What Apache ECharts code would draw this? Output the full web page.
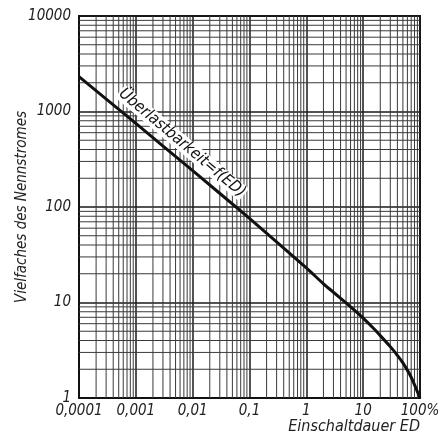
<!DOCTYPE html>
<html><head><meta charset="utf-8">
<script src="https://cdn.jsdelivr.net/npm/echarts@6/dist/echarts.min.js"></script>
<style>html,body{margin:0;padding:0;background:#fff}#c{width:443px;height:437px}</style>
</head><body><div id="c"></div>
<script>
// Data
const edValues = [0.0001, 0.001, 0.01, 0.1, 1, 2, 3, 5, 7, 10, 15, 20, 30, 40, 50, 70, 100];
const overloadValues = [2320, 750, 240, 76, 23, 15.7, 12.8, 9.9, 8.3, 6.85, 5.4, 4.5, 3.45, 2.8, 2.33, 1.65, 1.0];
const xTickValues = [0.0001, 0.001, 0.01, 0.1, 1, 10, 100];
const xTickLabels = ['0,0001', '0,001', '0,01', '0,1', '1', '10', '100%'];
const yTickValues = [1, 10, 100, 1000, 10000];
const yTickLabels = ['1', '10', '100', '1000', '10000'];
const minorMultipliers = [2, 3, 4, 5, 6, 7, 8, 9];
const curveLabel = 'Überlastbarkeit=f(ED)';
const xName = 'Einschaltdauer ED';
const yName = 'Vielfaches des Nennstromes';

const FONT = "'Liberation Sans Narrow','DejaVu Sans Condensed',sans-serif";
const X_MIN = xTickValues[0], X_MAX = xTickValues[xTickValues.length - 1];
const Y_MIN = yTickValues[0], Y_MAX = yTickValues[yTickValues.length - 1];

function minorValues(decades) {
  const out = [];
  for (let i = 0; i < decades.length - 1; i++)
    for (const m of minorMultipliers) out.push(+(decades[i] * m).toPrecision(6));
  return out;
}
function lookup(vals, labels, v) {
  for (let i = 0; i < vals.length; i++) if (Math.abs(Math.log10(v) - Math.log10(vals[i])) < 1e-6) return labels[i];
  return '';
}

const xMinor = minorValues(xTickValues);
const yMinor = minorValues(yTickValues);
// gridline segments as line data with gaps between them
const xMinorData = [];
xMinor.forEach(v => { xMinorData.push([v, Y_MIN], [v, Y_MAX], ['-', '-']); });
const yMinorData = [];
yMinor.forEach(v => { yMinorData.push([X_MIN, v], [X_MAX, v], ['-', '-']); });

const minorStyle = {color: '#3a3a3a', width: 1};

const chart = echarts.init(document.getElementById('c'), null, {renderer: 'canvas'});
chart.setOption({
  animation: false,
  backgroundColor: '#fff',
  grid: {left: 79, right: 23, top: 16, bottom: 39, containLabel: false, outerBoundsMode: 'none',
    show: true, borderColor: '#111', borderWidth: 2, backgroundColor: 'transparent'},
  xAxis: {
    type: 'log', logBase: 10, min: X_MIN, max: X_MAX,
    name: xName, nameLocation: 'end', nameGap: 0, nameMoveOverlap: false,
    nameTextStyle: {fontFamily: FONT, fontStyle: 'italic', fontSize: 16, color: '#222', align: 'right', verticalAlign: 'top', padding: [21, 0, 0, 0]},
    axisLine: {show: true, lineStyle: {color: '#111', width: 2}},
    axisTick: {show: false},
    splitLine: {show: true, lineStyle: {color: '#1a1a1a', width: 1.5}},
    axisLabel: {fontFamily: FONT, fontStyle: 'italic', fontSize: 15, color: '#222', margin: 6,
      formatter: v => lookup(xTickValues, xTickLabels, v)}
  },
  yAxis: {
    type: 'log', logBase: 10, min: Y_MIN, max: Y_MAX,
    name: yName, nameLocation: 'middle', nameGap: 49, nameRotate: 90, nameMoveOverlap: false,
    nameTextStyle: {fontFamily: FONT, fontStyle: 'italic', fontSize: 15, color: '#222'},
    axisLine: {show: true, lineStyle: {color: '#111', width: 2}},
    axisTick: {show: false},
    splitLine: {show: true, lineStyle: {color: '#1a1a1a', width: 1.5}},
    axisLabel: {fontFamily: FONT, fontStyle: 'italic', fontSize: 15, color: '#222', margin: 8,
      formatter: v => lookup(yTickValues, yTickLabels, v)}
  },
  series: [
    {type: 'line', silent: true, symbol: 'none', connectNulls: false, data: xMinorData, lineStyle: minorStyle, z: 1},
    {type: 'line', silent: true, symbol: 'none', connectNulls: false, data: yMinorData, lineStyle: minorStyle, z: 1},
    {
      type: 'line', name: curveLabel,
      data: edValues.map((x, i) => [x, overloadValues[i]]),
      smooth: 0.2, symbol: 'none',
      lineStyle: {color: '#111', width: 3},
      z: 5
    }
  ],
  graphic: [{
    type: 'text', z: 100,
    x: 182, y: 143, rotation: -40 * Math.PI / 180,
    style: {text: curveLabel, fontFamily: FONT, fontStyle: 'italic', fontSize: 16, fill: '#111',
      align: 'center', verticalAlign: 'middle', backgroundColor: '#fff', padding: [0, 1, 0, 1]}
  }]
});
</script></body></html>
